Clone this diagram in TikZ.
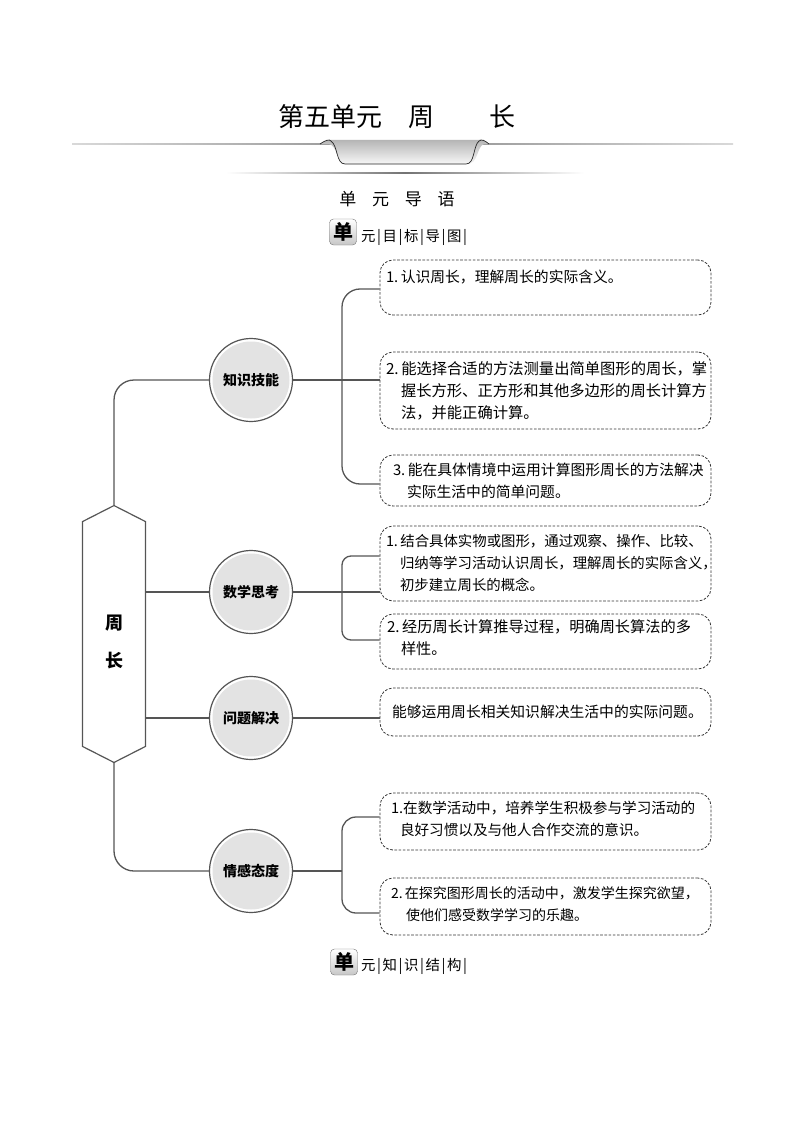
\documentclass[tikz,border=0pt]{standalone}
\usepackage{fontspec}
\setmainfont{Noto Sans CJK SC}
\usetikzlibrary{positioning, calc, shapes.symbols}
\definecolor{linegray}{HTML}{555555}
\definecolor{discgray}{HTML}{E3E3E3}
\newcommand{\tabbar}{\hspace{1.6pt}|\hspace{1.6pt}}
\tikzset{
  link/.style={draw=linegray, line width=1.3pt},
  goal/.style={draw=black!80, dash pattern=on 2.6pt off 1.6pt, line width=0.8pt, rounded corners=13pt, minimum width=331pt,
    text width=319pt, inner xsep=6pt, inner ysep=0pt, align=left, font=\fontsize{14.8}{22}\selectfont},
  aspect/.style={circle, draw=linegray, line width=1.2pt, fill=white, minimum size=83pt, inner sep=0pt,
    font=\fontsize{14}{16}\selectfont\bfseries,
    path picture={\fill[discgray] (path picture bounding box.center) circle (38.5pt);}},
  tabmark/.style={draw=black!55, rounded corners=4pt, top color=white, bottom color=black!22,
    minimum width=27pt, minimum height=26pt, inner sep=0pt, font=\fontsize{20}{22}\selectfont\bfseries},
  tabtext/.style={anchor=west, inner sep=0pt, font=\fontsize{14.4}{16}\selectfont},
}
\begin{document}
\begin{tikzpicture}[x=1pt, y=-1pt]
    \useasboundingbox (0,0) rectangle (794,1123);
    % heading
    \node[font=\fontsize{26}{28}\selectfont, inner sep=0pt] (title) at (397,117) {第五单元\hspace{26pt}周\hspace{56pt}长};
    \shade[left color=black!15, right color=black!15, middle color=black!45] (72,143.2) rectangle (733,144.8);
    \path[top color=black!30, middle color=black!50, bottom color=black!3]
      (320,144) .. controls (326,140) and (329,139) .. (331,140) -- (478,140)
      .. controls (481,139) and (484,140) .. (489,144) -- (484,144)
      .. controls (477,146) and (478,164) .. (468,164) -- (345,164)
      .. controls (337,164) and (338,146) .. (329,144) -- cycle;
    \draw[black!85, line width=0.7pt] (320,144) .. controls (326,140) and (329,139) .. (331,141)
      .. controls (338,146) and (336,164) .. (345,164) -- (466,164)
      .. controls (475,164) and (473,146) .. (479,141) .. controls (482,139) and (484,140) .. (489,144);
    \shade[left color=white, right color=white, middle color=black!55] (226,172.5) rectangle (584,174);
    \node[font=\fontsize{17}{19}\selectfont, inner sep=0pt] (intro) at (397,199) {单\hspace{15.7pt}元\hspace{15.7pt}导\hspace{15.7pt}语};
    \node[tabmark] (tab1) at (343,232) {单};
    \node[tabtext] (tab1text) at (361,237.5) {元\tabbar 目\tabbar 标\tabbar 导\tabbar 图\tabbar};
    % root
    \node[signal, signal to=north and south, signal pointer angle=126, draw=linegray, line width=1.2pt,
      minimum width=63pt, minimum height=234pt, inner sep=0pt, align=center,
      font=\fontsize{18}{36}\selectfont\bfseries] (root) at (114,634) {\rule{0pt}{30pt}周\\[2pt]长};
    % aspects
    \node[aspect] (skill) at (251,380) {知识技能};
    \node[aspect] (thinking) at (251,592) {数学思考};
    \node[aspect] (solving) at (251,718) {问题解决};
    \node[aspect] (attitude) at (251,871) {情感态度};
    % goals
    \node[goal, minimum height=55pt] (g1) at (545.5,287.5) {1.\,认识周长，理解周长的实际含义。\\ \ };
    \node[goal, minimum height=77pt, font=\fontsize{15.3}{22}\selectfont] (g2) at (545.5,390.5) {2.\,能选择合适的方法测量出简单图形的周长，掌\\\hspace*{15pt}握长方形、正方形和其他多边形的周长计算方\\\hspace*{15pt}法，并能正确计算。};
    \node[goal, minimum height=51pt] (g3) at (545.5,480.5) {\hspace*{7pt}3.\,能在具体情境中运用计算图形周长的方法解决\\\hspace*{21pt}实际生活中的简单问题。};
    \node[goal, minimum height=75pt, font=\fontsize{14.4}{22}\selectfont] (g4) at (545.5,563.5) {1.\,结合具体实物或图形，通过观察、操作、比较、\\\hspace*{14pt}归纳等学习活动认识周长，理解周长的实际含义，\\\hspace*{14pt}初步建立周长的概念。};
    \node[goal, minimum height=55pt, font=\fontsize{15.2}{22}\selectfont] (g5) at (545.5,641.5) {\hspace*{1pt}2.\,经历周长计算推导过程，明确周长算法的多\\\hspace*{15pt}样性。\rule[-8pt]{0pt}{0pt}};
    \node[goal, minimum height=48pt] (g6) at (545.5,712) {\hspace*{6pt}能够运用周长相关知识解决生活中的实际问题。};
    \node[goal, minimum height=57pt, font=\fontsize{14.6}{22}\selectfont] (g7) at (545.5,821.5) {\hspace*{5pt}1.在数学活动中，培养学生积极参与学习活动的\\\hspace*{14pt}良好习惯以及与他人合作交流的意识。\rule[-6pt]{0pt}{0pt}};
    \node[goal, minimum height=57pt, font=\fontsize{14}{22}\selectfont] (g8) at (545.5,906.5) {\hspace*{5pt}2.\,在探究图形周长的活动中，激发学生探究欲望，\\\hspace*{20pt}使他们感受数学学习的乐趣。\rule[-6pt]{0pt}{0pt}};
    \node[tabmark] (tab2) at (344,962) {单};
    \node[tabtext] (tab2text) at (361,966.5) {元\tabbar 知\tabbar 识\tabbar 结\tabbar 构\tabbar};
    % connectors
    \coordinate (s1) at (342,380);
    \coordinate (s2) at (342,592);
    \coordinate (s4) at (342,871);
    \draw[link, rounded corners=20pt] (root.north) |- (skill.west);
    \draw[link] (root.east |- thinking) -- (thinking.west);
    \draw[link] (root.east |- solving) -- (solving.west);
    \draw[link, rounded corners=20pt] (root.south) |- (attitude.west);
    \draw[link] (skill.east) -- (skill.east -| g2.west);
    \draw[link] (thinking.east) -- (thinking.east -| g4.west);
    \draw[link] (solving.east) -- (solving.east -| g6.west);
    \draw[link] (attitude.east) -- (s4);
    \draw[link, rounded corners=18pt] ([yshift=-1.5pt]g1.west) -| (s1) |- ([yshift=-3.5pt]g3.west);
    \draw[link, rounded corners=9pt] ([yshift=7.5pt]g4.west) -| (s2) |- ([yshift=1.5pt]g5.west);
    \draw[link, rounded corners=14pt] ([yshift=4.5pt]g7.west) -| (s4) |- ([yshift=-6.5pt]g8.west);
  \end{tikzpicture}
\end{document}
